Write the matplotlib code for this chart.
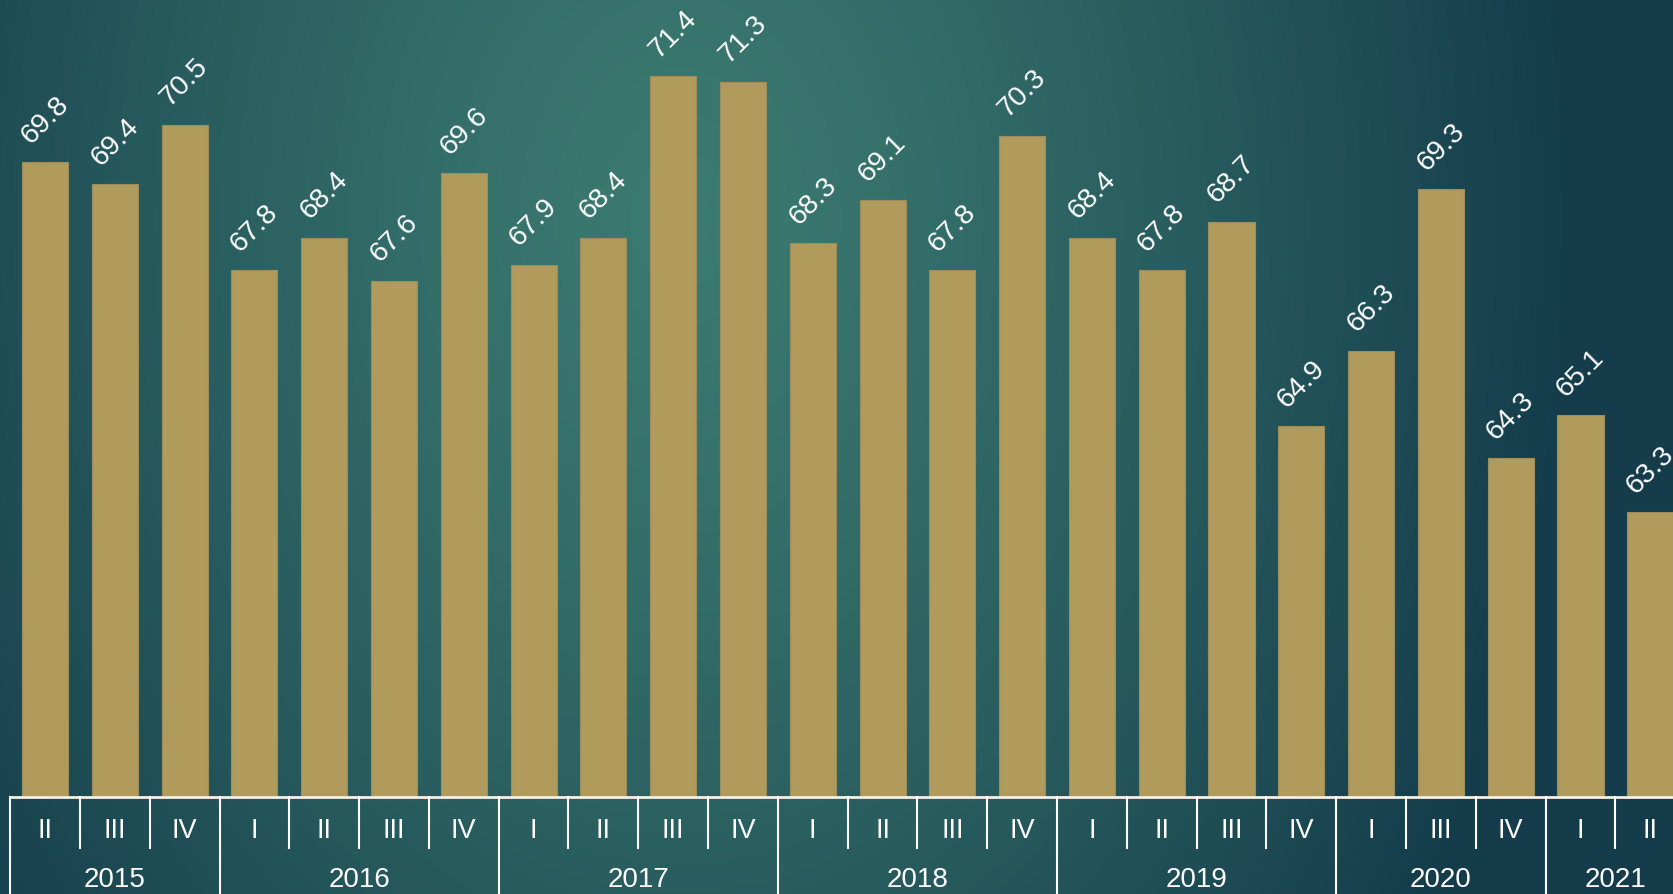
import numpy as np
import matplotlib
matplotlib.use("Agg")
import matplotlib.pyplot as plt
from matplotlib.colors import to_rgb

# quarterly values (label shown above each bar)
years = ["2015", "2016", "2017", "2018", "2019", "2020", "2021"]
quarters = [
    ["II", "III", "IV"],
    ["I", "II", "III", "IV"],
    ["I", "II", "III", "IV"],
    ["I", "II", "III", "IV"],
    ["I", "II", "III", "IV"],
    ["I", "III", "IV"],
    ["I", "II"],
]
values = [69.8, 69.4, 70.5,
          67.8, 68.4, 67.6, 69.6,
          67.9, 68.4, 71.4, 71.3,
          68.3, 69.1, 67.8, 70.3,
          68.4, 67.8, 68.7, 64.9,
          66.3, 69.3, 64.3,
          65.1, 63.3]

W, H = 1674, 895
BAR = "#b09a5c"
plt.rcParams["font.family"] = ["Liberation Sans", "DejaVu Sans"]

fig = plt.figure(figsize=(W / 100, H / 100), dpi=100)

# background: elliptical gradient, light teal in the middle, dark at the edges
bg = fig.add_axes([0, 0, 1, 1])
yy, xx = np.mgrid[0:H, 0:W]
t = np.sqrt(((xx - 680) / 900.0) ** 2 + ((yy - 220) / 1250.0) ** 2)
t = np.clip(t, 0, 1) ** 1.2
c0 = np.array(to_rgb("#3c7b71"))
c1 = np.array(to_rgb("#143c4b"))
img = c0[None, None, :] * (1 - t[..., None]) + c1[None, None, :] * t[..., None]
bg.imshow(img, aspect="auto", extent=[0, 1, 0, 1], origin="upper")
bg.set_axis_off()

base_px = 798
ax = fig.add_axes([0, 1 - base_px / H, 1, base_px / H])
ax.patch.set_alpha(0)
x = np.arange(len(values))
ax.bar(x, values, width=0.66, color=BAR, edgecolor="#9c8d5e", linewidth=0.8)
ax.set_ylim(58, 72.84)
ax.set_xlim(-0.645, 23.34)
ax.set_axis_off()

for xi, v in zip(x, values):
    ax.annotate(f"{v}", (xi, v), xytext=(0, 31), textcoords="offset points",
                ha="center", va="center", rotation=45, rotation_mode="anchor",
                color="white", fontsize=20.5)

# category axis: quarter labels and year groups
def fy(py):
    return 1 - py / H

tr = matplotlib.transforms.blended_transform_factory(ax.transData, fig.transFigure)
ax.plot([-0.5, 24], [fy(base_px)] * 2, color="#f4f0e4", lw=2, transform=tr,
        clip_on=False)
i = 0
for yr, qs in zip(years, quarters):
    start = i
    ax.plot([start - 0.5] * 2, [fy(base_px), 0], color="white", lw=1.5,
            transform=tr, clip_on=False)
    for k, q in enumerate(qs):
        if k > 0:
            ax.plot([i - 0.5] * 2, [fy(base_px), fy(849)], color="white",
                    lw=1.5, transform=tr, clip_on=False)
        ax.text(i, fy(831), q, ha="center", va="center", color="white",
                fontsize=19.5, transform=tr)
        i += 1
    ax.text((start + i - 1) / 2, fy(880), yr, ha="center", va="center",
            color="white", fontsize=20, transform=tr)

fig.savefig("out.png", dpi=100)
